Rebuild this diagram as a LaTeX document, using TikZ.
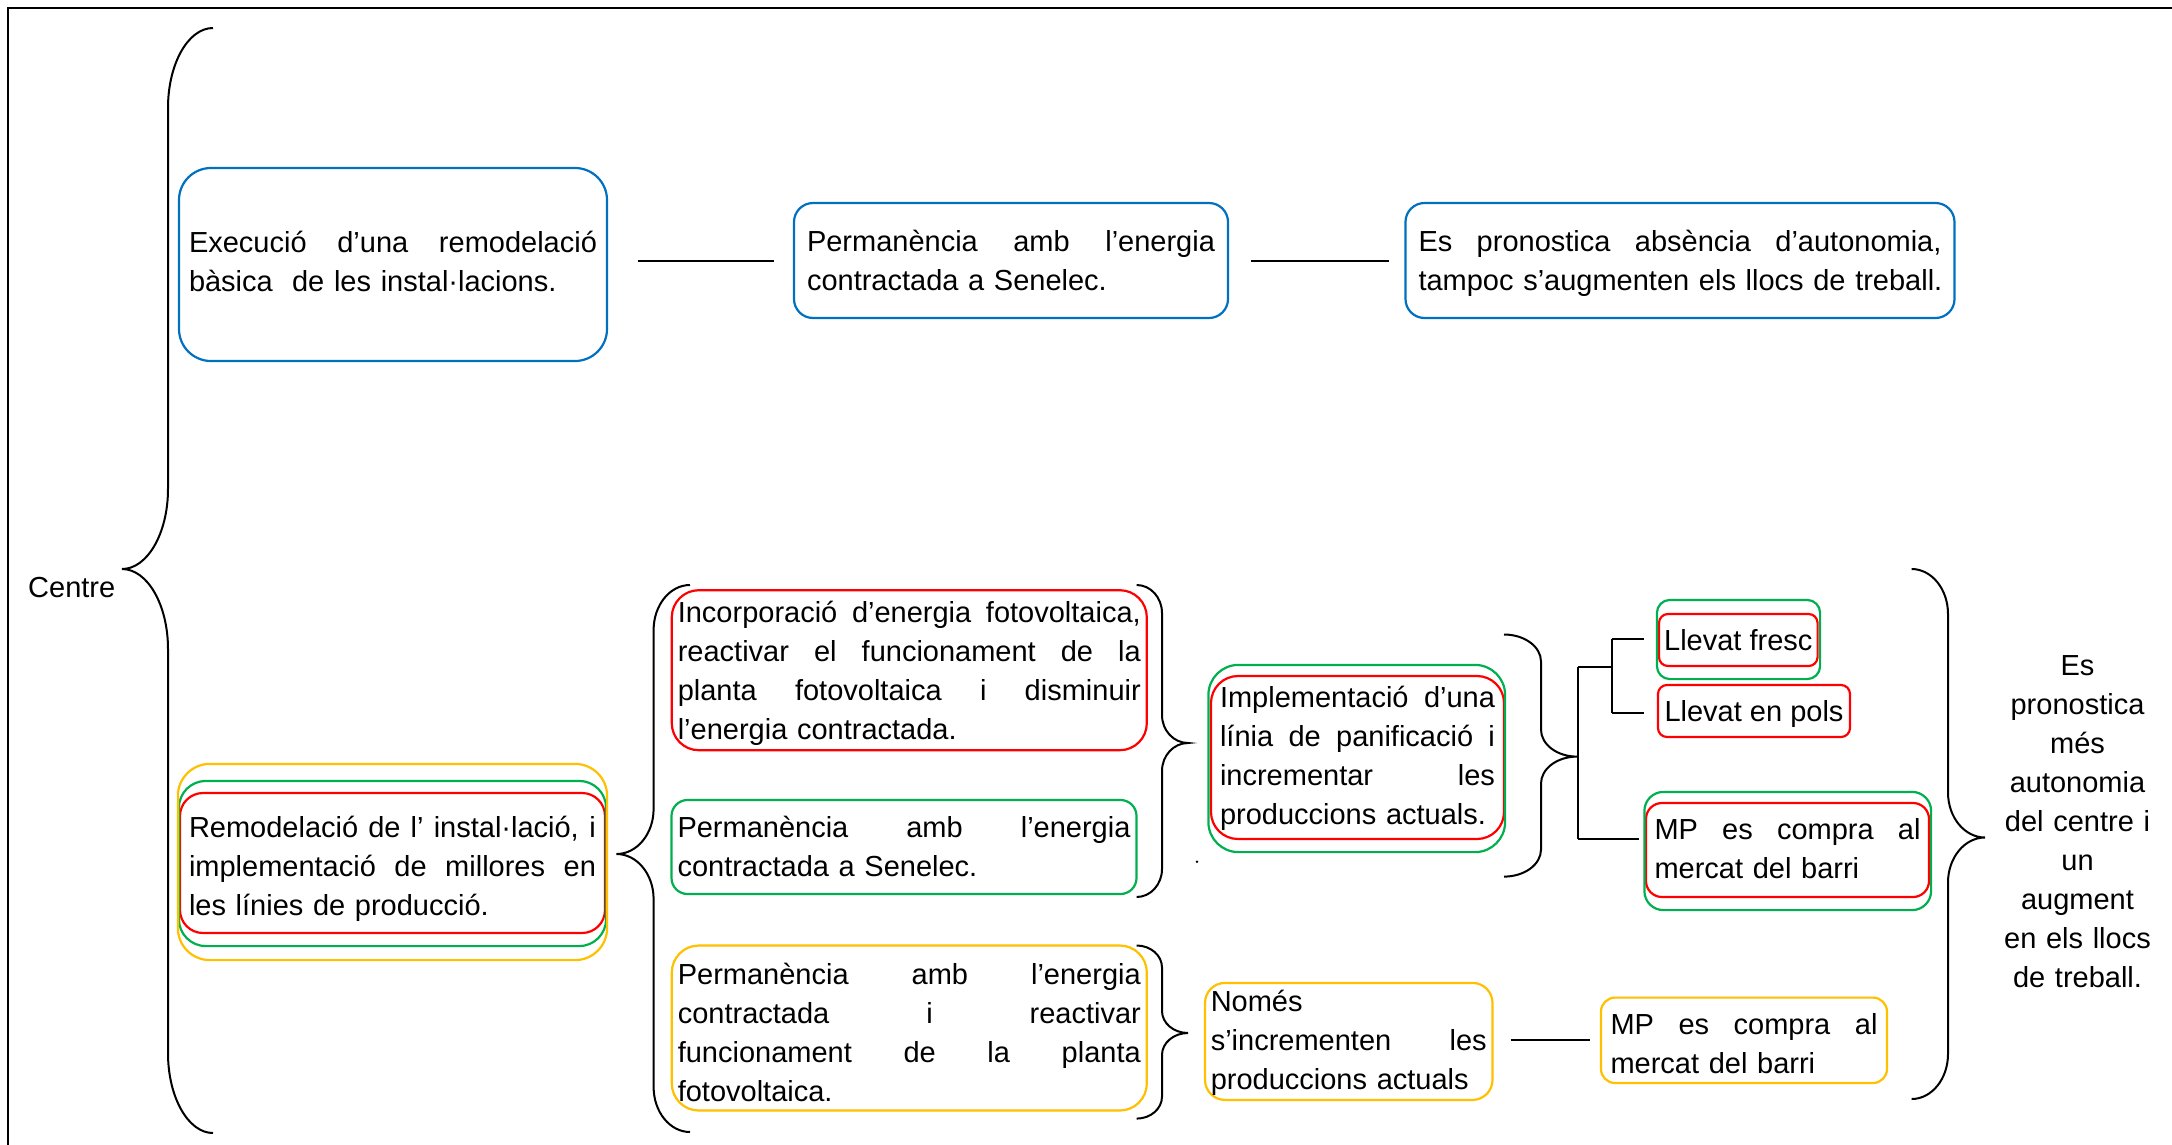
\documentclass[tikz,border=0pt]{standalone}
\usepackage{fontspec}
\setmainfont{Liberation Sans}
\definecolor{cblue}{HTML}{0070C0}
\definecolor{cred}{HTML}{FF0000}
\definecolor{cgreen}{HTML}{00B050}
\definecolor{cyel}{HTML}{FFC000}
\newcommand\jl[2]{\makebox[#1pt][s]{\spaceskip=0.278em plus 1fil\relax #2}\\}
\newcommand\cbrace[7]{%
 \draw[brc] (#1,#4) .. controls ({#1-0.5523*(#1-#2)},#4) and (#2,{#4+#7-0.5523*#7}) .. (#2,{#4+#7})
 -- (#2,{#5-#7}) .. controls (#2,{#5-#7+0.5523*#7}) and ({#3+0.5523*(#2-#3)},#5) .. (#3,#5)
 .. controls ({#3+0.5523*(#2-#3)},#5) and (#2,{#5+#7-0.5523*#7}) .. (#2,{#5+#7})
 -- (#2,{#6-#7}) .. controls (#2,{#6-#7+0.5523*#7}) and ({#1-0.5523*(#1-#2)},#6) .. (#1,#6);}
\tikzset{
 txt/.style={font=\fontsize{29}{39}\selectfont, align=left, inner sep=0pt},
 bx/.style={draw, line width=2.2pt, rounded corners=#1, txt, text height=21pt},
 outl/.style={line width=2.2pt, rounded corners=#1},
 brc/.style={line width=2pt, black},
 conn/.style={line width=2pt, black},
}
\begin{document}
\begin{tikzpicture}[x=1pt,y=-1pt]
\useasboundingbox (0,0) rectangle (2172,1144);
\fill[white] (0,0) rectangle (2172,1144);
\draw[line width=2pt] (8,8) rectangle (2200,1170);

% top row
\node[bx=32pt, draw=cblue, minimum width=428pt, minimum height=193pt, text width=408pt, text depth=46pt] (b1) at (393,264.5)
 {\jl{408}{Execució d’una remodelació}bàsica~ de les instal·lacions.};
\node[bx=19pt, draw=cblue, minimum width=434pt, minimum height=115pt, text width=408pt, text depth=40pt] (b2) at (1011,260.5)
 {\jl{408}{Permanència amb l’energia}contractada a Senelec.};
\node[bx=19pt, draw=cblue, minimum width=549pt, minimum height=115pt, text width=523pt, text depth=40pt] (b3) at (1680,260.5)
 {\jl{523}{Es pronostica absència d’autonomia,}\mbox{tampoc s’augmenten els llocs de treball.}};
\draw[conn] ([xshift=30pt]b1.east |- b2.west) -- ([xshift=-19pt]b2.west);
\draw[conn] ([xshift=22pt]b2.east) -- ([xshift=-15pt]b3.west);

% centre
\node[txt, anchor=base west] (centre) at (28,597) {Centre};
\cbrace{213}{168}{122}{28}{569}{1133}{80}

% remodelacio
\node[bx=23pt, draw=cred, minimum width=425pt, minimum height=140pt, text width=407pt, text depth=73pt] (R) at (392.5,863)
 {\jl{407}{Remodelació de l’ instal·lació, i}\jl{407}{implementació de millores en}les línies de producció.};
\draw[outl=27pt, cgreen] ([yshift=11pt]R.north west) rectangle ([yshift=-12pt]R.south east);
\draw[outl=32pt, cyel] ([shift={(-1pt,28pt)}]R.north west) rectangle ([shift={(1pt,-26pt)}]R.south east);
\cbrace{690}{653.6}{616.5}{585}{854}{1132}{45}

% middle column
\node[bx=27pt, draw=cred, minimum width=475pt, minimum height=160pt, text width=463pt, text depth=116pt] (A) at (909.3,670.2)
 {\jl{463}{Incorporació d’energia fotovoltaica,}\jl{463}{reactivar el funcionament de la}\jl{463}{planta fotovoltaica i disminuir}l’energia contractada.};
\node[bx=16pt, draw=cgreen, minimum width=465pt, minimum height=94pt, text width=453pt, text depth=40pt] (B) at (904,847)
 {\jl{453}{Permanència amb l’energia}contractada a Senelec.};
\node[bx=27pt, draw=cyel, minimum width=475pt, minimum height=165pt, text width=463pt, text depth=108pt] (C) at (909.3,1028)
 {\jl{463}{Permanència amb l’energia}\jl{463}{contractada i reactivar}\jl{463}{funcionament de la planta}fotovoltaica.};
\cbrace{1136.6}{1162}{1188}{585}{743}{897}{28}
\cbrace{1136.6}{1162}{1188}{945.5}{1033}{1118.6}{22}

% F and G
\node[bx=27pt, draw=cred, minimum width=293pt, minimum height=163pt, text width=275pt, text depth=121pt] (F) at (1357.5,757.5)
 {\jl{275}{Implementació d’una}\jl{275}{línia de panificació i}\jl{275}{incrementar les}produccions actuals.};
\draw[outl=30pt, cgreen] ([shift={(-1.5pt,10pt)}]F.north west) rectangle ([yshift=-12pt]F.south east);
\fill (1197,861.7) circle (1.3pt);
\node[bx=20pt, draw=cyel, minimum width=287.5pt, minimum height=117pt, text width=276pt, text depth=81pt] (G) at (1348.75,1041.4)
 {Només\\\jl{276}{s’incrementen les}produccions actuals};
\cbrace{1504}{1541}{1577}{634.5}{756.6}{876.6}{27}

% right boxes
\node[bx=9pt, draw=cred, minimum width=158.6pt, minimum height=52pt, text depth=0pt] (lf) at (1738.3,640) {Llevat fresc};
\draw[outl=13pt, cgreen] ([shift={(-1pt,13pt)}]lf.north west) rectangle ([shift={(1.4pt,-12pt)}]lf.south east);
\node[bx=9pt, draw=cred, minimum width=192pt, minimum height=52pt, text depth=0pt] (lp) at (1754,711) {Llevat en pols};
\node[bx=16pt, draw=cred, minimum width=283pt, minimum height=94pt, text width=266pt, text depth=43pt] (mp) at (1787.5,850)
 {\jl{266}{MP es compra al}mercat del barri};
\draw[outl=19pt, cgreen] ([shift={(-0.5pt,10pt)}]mp.north west) rectangle ([shift={(1pt,-12pt)}]mp.south east);
\node[bx=14pt, draw=cyel, minimum width=286pt, minimum height=85.4pt, text width=267pt, text depth=32pt] (mpy) at (1744,1040.3)
 {\jl{267}{MP es compra al}mercat del barri};

% tree connectors
\coordinate (t1) at (1578,667);
\coordinate (t2) at (1578,839);
\coordinate (t3) at (1611.5,667);
\coordinate (t4) at (1611.5,638.6);
\coordinate (t5) at (1611.5,713.4);
\draw[conn] (t1) -- (t2);
\draw[conn] (t1) -- (t3);
\draw[conn] (t4) -- (t5);
\draw[conn] (t4) -- ([xshift=-13.5pt]lf.west |- t4);
\draw[conn] (t5) -- ([xshift=-12.5pt]lp.west |- t5);
\draw[conn] (t2) -- ([xshift=-6pt]mp.west |- t2);
\draw[conn] ([xshift=17pt]G.east |- mpy.west) -- ([xshift=-9.5pt]mpy.west);

% right brace and result
\cbrace{1911.6}{1948}{1985}{569}{837.5}{1099}{45}
\node[txt, align=center, text width=220pt, anchor=base] (res) at (2077.5,675.5)
 {Es\\pronostica\\més\\autonomia\\del centre i\\un\\augment\\en els llocs\\de treball.};
\end{tikzpicture}
\end{document}
